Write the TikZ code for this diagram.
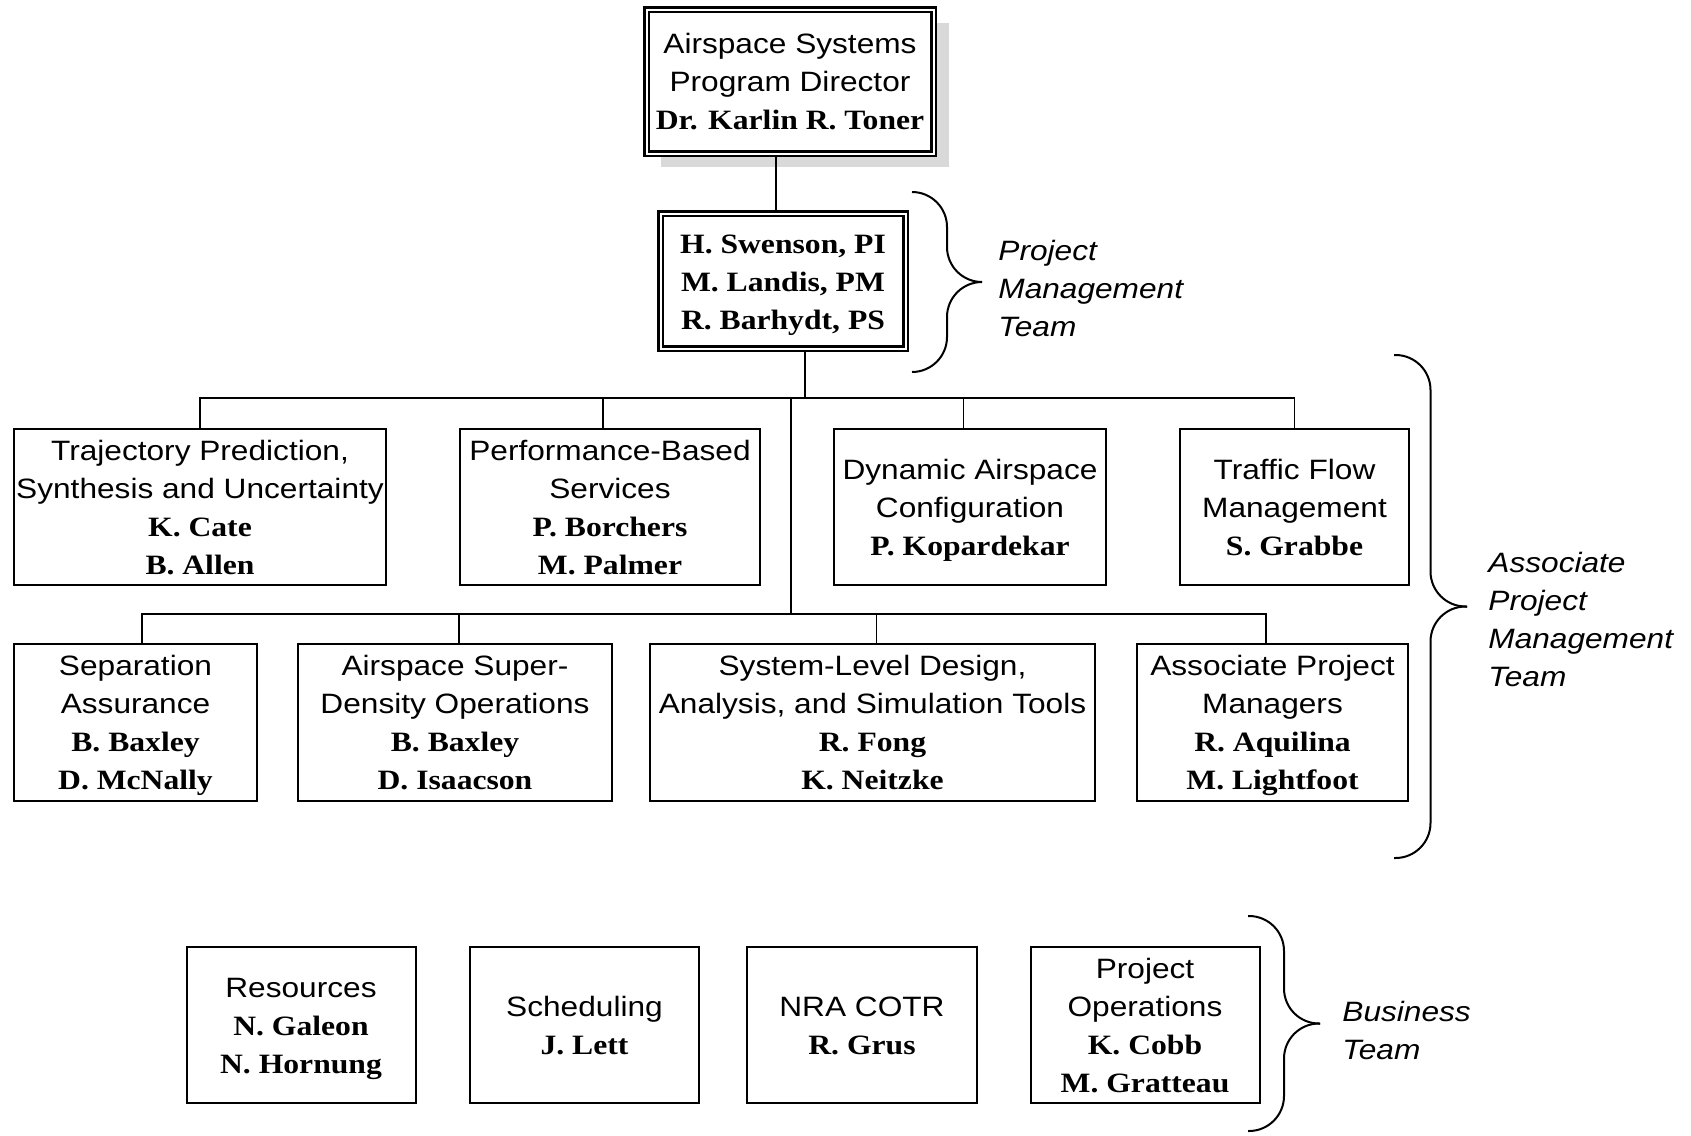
\documentclass[tikz,border=0pt]{standalone}
\usepackage{fontspec}
\setmainfont{Liberation Sans}[FakeStretch=1.13]
\newfontfamily\namefont{Liberation Serif}[FakeStretch=1.13]
\usetikzlibrary{positioning,backgrounds}
\newcommand{\person}[1]{{\namefont\bfseries #1}}
\newcommand{\linestrut}{\rule[-4pt]{0pt}{18.2pt}}

\begin{document}
\begin{tikzpicture}[x=0.5pt, y=-0.5pt, font=\fontsize{14}{19}\selectfont,
  unit/.style={draw, fill=white, line width=1pt, inner sep=0pt, align=center, minimum height=78pt,
    execute at end node=\linestrut},
  lead/.style={draw, fill=white, line width=1.25pt, double, double distance=1pt, inner sep=0pt, outer sep=1.75pt, align=center,
    execute at end node=\linestrut},
  link/.style={line width=0.8pt},
  team/.style={anchor=west, inner sep=0pt, align=left, font=\fontsize{14}{19}\selectfont\itshape},
  teambrace/.style={line width=1pt, rounded corners=17.5pt}]

  \useasboundingbox (0,0) rectangle (1691,1135);

  % program office
  \node[lead, minimum width=143.5pt, minimum height=72pt] (dir) at (790,81.5) {\linestrut Airspace Systems\\Program Director\\\person{Dr. Karlin R. Toner}};
  \node[lead, minimum width=122.5pt, minimum height=67.5pt] (pm) at (783,281) {\linestrut\person{H. Swenson, PI}\\\person{M. Landis, PM}\\\person{R. Barhydt, PS}};
  \begin{scope}[on background layer]
    \fill[white] (0,0) rectangle (1691,1135);
    \fill[black!15] ([shift={(9pt,-8.5pt)}]dir.north west) rectangle ([shift={(6pt,-5pt)}]dir.south east);
  \end{scope}

  % first row of elements
  \node[unit, minimum width=186pt] (traj) at (200,507) {\linestrut Trajectory Prediction,\\Synthesis and Uncertainty\\\person{K. Cate}\\\person{B. Allen}};
  \node[unit, minimum width=150pt, right=36pt of traj] (perf) {\linestrut Performance-Based\\Services\\\person{P. Borchers}\\\person{M. Palmer}};
  \node[unit, minimum width=136pt, right=36pt of perf] (dyn) {\linestrut Dynamic Airspace\\Configuration\\\person{P. Kopardekar}};
  \node[unit, minimum width=114.5pt, right=36pt of dyn] (tfm) {\linestrut Traffic Flow\\Management\\\person{S. Grabbe}};

  % second row
  \node[unit, minimum width=121.5pt, minimum height=78.5pt] (sep) at (135.5,722.5) {\linestrut Separation\\Assurance\\\person{B. Baxley}\\\person{D. McNally}};
  \node[unit, minimum width=157pt, minimum height=78.5pt] (sdo) at (455,722.5) {\linestrut Airspace Super-\\Density Operations\\\person{B. Baxley}\\\person{D. Isaacson}};
  \node[unit, minimum width=222.5pt, minimum height=78.5pt] (sys) at (872.5,722.5) {\linestrut System-Level Design,\\Analysis, and Simulation Tools\\\person{R. Fong}\\\person{K. Neitzke}};
  \node[unit, minimum width=135.5pt, minimum height=78.5pt] (apm) at (1272.5,722.5) {\linestrut Associate Project\\Managers\\\person{R. Aquilina}\\\person{M. Lightfoot}};

  % business office
  \node[unit, minimum width=114.5pt] (res) at (301,1025) {\linestrut Resources\\\person{N. Galeon}\\\person{N. Hornung}};
  \node[unit, minimum width=114.5pt] (sch) at (584.5,1025) {\linestrut Scheduling\\\person{J. Lett}};
  \node[unit, minimum width=115pt] (nra) at (862,1025) {\linestrut NRA COTR\\\person{R. Grus}};
  \node[unit, minimum width=114.5pt] (ops) at (1145,1025) {\linestrut Project\\Operations\\\person{K. Cobb}\\\person{M. Gratteau}};

  % buses and drops
  \coordinate (bus1) at (0,398);
  \coordinate (bus2) at (0,614);
  \coordinate (trunk) at (791,0);
  \coordinate (dirdrop) at ([xshift=-3.5pt]pm.north);
  \coordinate (pmdrop) at ([xshift=11pt]pm.south);
  \coordinate (perfdrop) at ([xshift=-3.5pt]perf.north);
  \coordinate (dyndrop) at ([xshift=-3.2pt]dyn.north);
  \coordinate (sepdrop) at ([xshift=3.25pt]sep.north);
  \coordinate (sdodrop) at ([xshift=2pt]sdo.north);
  \coordinate (sysdrop) at ([xshift=2pt]sys.north);
  \coordinate (apmdrop) at ([xshift=-3.25pt]apm.north);

  \draw[link] (dir.south -| dirdrop) -- (dirdrop);
  \draw[link] (pmdrop) -- (pmdrop |- bus1);
  \draw[link] (traj.north) |- (tfm.north |- bus1) -- (tfm.north);
  \draw[link] (perfdrop) -- (perfdrop |- bus1);
  \draw[link] (dyndrop) -- (dyndrop |- bus1);
  \draw[link] (trunk |- bus1) -- (trunk |- bus2);
  \draw[link] (sepdrop) |- (apmdrop |- bus2) -- (apmdrop);
  \draw[link] (sdodrop) -- (sdodrop |- bus2);
  \draw[link] (sysdrop) -- (sysdrop |- bus2);

  % team labels
  \node[team] (pmteam) at (998,288) {Project\\Management\\Team};
  \node[team] (apteam) at (1488,619) {Associate\\Project\\Management\\Team};
  \node[team] (bizteam) at (1342,1030) {Business\\Team};

  \foreach \bx/\btop/\bbot/\bamp in {912/192/372/70, 1394/355/858/73, 1248/916/1131/72}{
    \draw[teambrace] (\bx,\btop) -| ({\bx+\bamp/2},{(\btop+\bbot)/2}) -- ({\bx+\bamp},{(\btop+\bbot)/2});
    \draw[teambrace] (\bx,\bbot) -| ({\bx+\bamp/2},{(\btop+\bbot)/2}) -- ({\bx+\bamp},{(\btop+\bbot)/2});
  }
\end{tikzpicture}
\end{document}
